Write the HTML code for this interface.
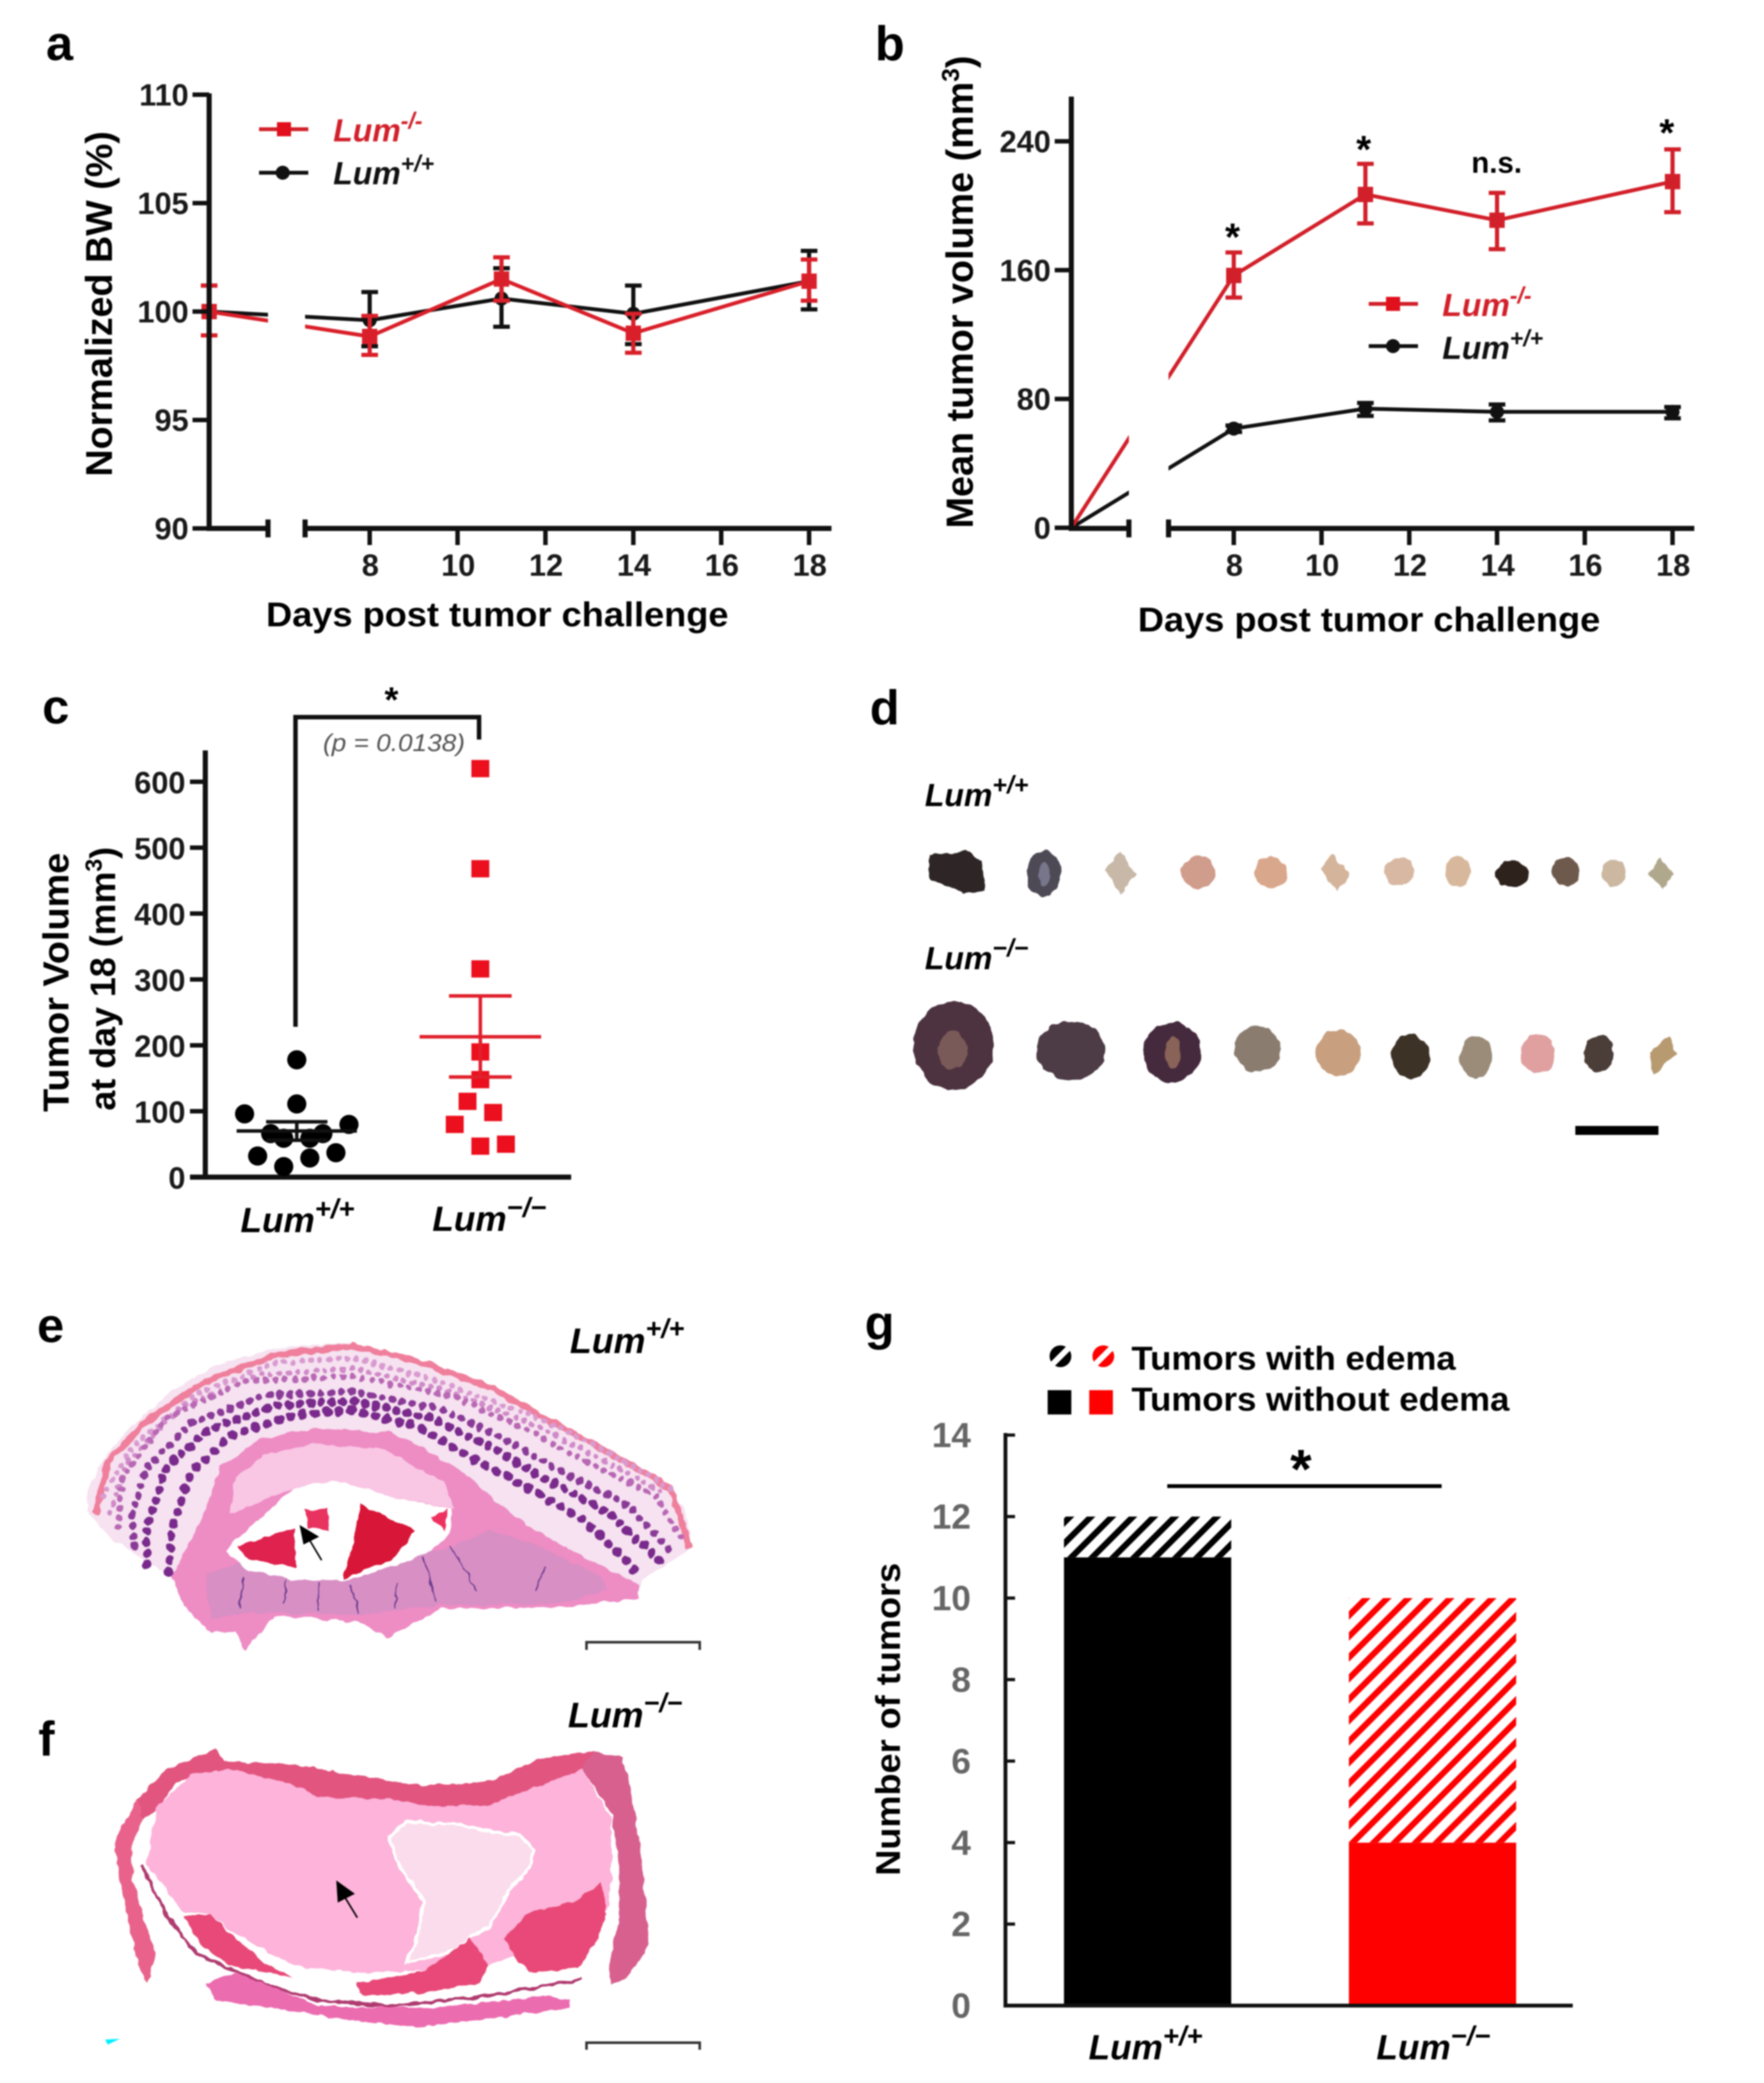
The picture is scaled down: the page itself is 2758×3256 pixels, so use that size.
<!DOCTYPE html>
<html lang="en">
<head>
<meta charset="utf-8">
<title>Lumican tumor figure</title>
<style>
html,body{margin:0;padding:0;background:#fff;width:2758px;height:3256px;overflow:hidden}
svg{display:block;filter:blur(1.1px)}
text{font-family:"Liberation Sans",sans-serif;font-weight:bold}
.it{font-style:italic}
.panel{font-size:76px}
</style>
</head>
<body>
<svg id="fig" xmlns="http://www.w3.org/2000/svg" width="2758" height="3256" viewBox="0 0 2758 3256">
<defs>
<pattern id="hatch-black" patternUnits="userSpaceOnUse" width="23.2" height="23.2" patternTransform="rotate(-45)">
<rect width="23.2" height="23.2" fill="#fff"/><rect y="1" width="23.2" height="9.5" fill="#000"/>
</pattern>
<pattern id="hatch-red" patternUnits="userSpaceOnUse" width="23.2" height="23.2" patternTransform="rotate(-45)">
<rect width="23.2" height="23.2" fill="#fff"/><rect y="1" width="23.2" height="9.5" fill="#f00"/>
</pattern>
<filter id="rough" x="-5%" y="-5%" width="110%" height="110%">
<feTurbulence type="fractalNoise" baseFrequency="0.06" numOctaves="2" seed="4" result="n"/>
<feDisplacementMap in="SourceGraphic" in2="n" scale="9" xChannelSelector="R" yChannelSelector="G"/>
</filter>
</defs>
<rect width="2758" height="3256" fill="#fff"/>

<text class="panel" x="72" y="94">a</text>
<text class="panel" x="1368" y="94">b</text>
<text class="panel" x="66" y="1131">c</text>
<text class="panel" x="1360" y="1132">d</text>
<text class="panel" x="58" y="2098">e</text>
<text class="panel" x="60" y="2744">f</text>
<text class="panel" x="1352" y="2094">g</text>

<g id="chart-a"></g>
<g id="chart-b"></g>
<g id="chart-c"></g>
<g id="chart-g"></g>

<!-- Panel a static labels -->
<text transform="translate(175,745) rotate(-90)" font-size="58" textLength="540" lengthAdjust="spacingAndGlyphs">Normalized BW (%)</text>
<text x="416" y="979" font-size="54" textLength="723" lengthAdjust="spacingAndGlyphs">Days post tumor challenge</text>
<g>
<line x1="405" y1="202" x2="482" y2="202" stroke="#d2202a" stroke-width="6"/>
<rect x="433" y="191" width="22" height="22" fill="#e0101c"/>
<text class="it" x="521" y="221" font-size="50" fill="#d2202a">Lum<tspan font-size="36" dy="-20">-/-</tspan></text>
<line x1="405" y1="270" x2="482" y2="270" stroke="#111" stroke-width="6"/>
<circle cx="442" cy="270" r="11" fill="#111"/>
<text class="it" x="521" y="288" font-size="50" fill="#111">Lum<tspan font-size="36" dy="-20">+/+</tspan></text>
</g>

<!-- Panel b static labels -->
<text transform="translate(1521,826) rotate(-90)" font-size="59">Mean tumor volume (mm<tspan font-size="38" dy="-22">3</tspan><tspan dy="22">)</tspan></text>
<text x="1779" y="987" font-size="54" textLength="723" lengthAdjust="spacingAndGlyphs">Days post tumor challenge</text>
<text x="1927" y="391" font-size="60" text-anchor="middle">*</text>
<text x="2132" y="254" font-size="60" text-anchor="middle">*</text>
<text x="2340" y="270" font-size="46" text-anchor="middle">n.s.</text>
<text x="2606" y="228" font-size="60" text-anchor="middle">*</text>
<g>
<line x1="2140" y1="475" x2="2217" y2="475" stroke="#d2202a" stroke-width="6"/>
<rect x="2167" y="464" width="22" height="22" fill="#e0101c"/>
<text class="it" x="2255" y="494" font-size="50" fill="#d2202a">Lum<tspan font-size="36" dy="-20">-/-</tspan></text>
<line x1="2140" y1="541" x2="2217" y2="541" stroke="#111" stroke-width="6"/>
<circle cx="2178" cy="541" r="11" fill="#111"/>
<text class="it" x="2255" y="561" font-size="50" fill="#111">Lum<tspan font-size="36" dy="-20">+/+</tspan></text>
</g>

<!-- Panel c static labels -->
<text transform="translate(107,1738) rotate(-90)" font-size="57" textLength="405" lengthAdjust="spacingAndGlyphs">Tumor Volume</text>
<text transform="translate(180,1736) rotate(-90)" font-size="56">at day 18 (mm<tspan font-size="36" dy="-21">3</tspan><tspan dy="21">)</tspan></text>
<path d="M462,1605V1121H749V1156" fill="none" stroke="#111" stroke-width="7"/>
<text x="612" y="1113" font-size="56" text-anchor="middle">*</text>
<text class="it" x="505" y="1174" font-size="38" fill="#555" style="font-weight:normal" textLength="222" lengthAdjust="spacingAndGlyphs">(p = 0.0138)</text>
<text class="it" x="376" y="1926" font-size="55">Lum<tspan font-size="43" dy="-22">+/+</tspan></text>
<text class="it" x="676" y="1924" font-size="55">Lum<tspan font-size="43" dy="-22">−/−</tspan></text>

<!-- Panel d photo -->
<g>
<text class="it" x="1446" y="1260" font-size="50">Lum<tspan font-size="39" dy="-20">+/+</tspan></text>
<text class="it" x="1446" y="1515" font-size="50">Lum<tspan font-size="39" dy="-20">−/−</tspan></text>
<g filter="url(#rough)">
<g transform="translate(1340,1040) scale(.9043,.5102)">
<path d="M125,580L195,570L215,600L220,690L185,700L125,655Z" fill="#2e2826"/>
<ellipse cx="323" cy="638" rx="30" ry="70" fill="#4d4a55"/>
<ellipse cx="323" cy="640" rx="10" ry="38" fill="#77768a"/>
<path d="M455,570L482,640L455,700L428,625Z" fill="#c8b8a8"/>
<ellipse cx="590" cy="635" rx="30" ry="50" fill="#d09c8c"/>
<ellipse cx="715" cy="635" rx="28" ry="48" fill="#d8a78c"/>
<path d="M822,580L853,640L830,695L802,625Z" fill="#d4b49a"/>
<ellipse cx="938" cy="632" rx="26" ry="43" fill="#d8b8a2"/>
<ellipse cx="1038" cy="632" rx="22" ry="48" fill="#d8b89c"/>
<ellipse cx="1133" cy="640" rx="28" ry="42" fill="#2e241e"/>
<ellipse cx="1225" cy="632" rx="24" ry="45" fill="#6e5a4e"/>
<ellipse cx="1308" cy="635" rx="20" ry="43" fill="#ccb8a0"/>
<path d="M1388,592L1412,640L1392,690L1370,640Z" fill="#b0a88c"/>
<ellipse cx="167" cy="1165" rx="70" ry="135" fill="#4e3240"/>
<ellipse cx="165" cy="1180" rx="25" ry="60" fill="#7a5a58"/>
<ellipse cx="370" cy="1180" rx="60" ry="90" fill="#4e3a44"/>
<ellipse cx="545" cy="1185" rx="52" ry="90" fill="#452a3c"/>
<ellipse cx="545" cy="1185" rx="14" ry="50" fill="#8a6458"/>
<ellipse cx="692" cy="1175" rx="40" ry="72" fill="#8a7d70"/>
<ellipse cx="832" cy="1188" rx="38" ry="70" fill="#c8a080"/>
<ellipse cx="958" cy="1198" rx="33" ry="68" fill="#3c3028"/>
<ellipse cx="1070" cy="1200" rx="28" ry="65" fill="#9a8c78"/>
<ellipse cx="1177" cy="1190" rx="30" ry="60" fill="#e0a0a0"/>
<ellipse cx="1283" cy="1190" rx="26" ry="55" fill="#4c3e38"/>
<path d="M1403,1138L1418,1190L1375,1255L1370,1185Z" fill="#b89a70"/>
</g>
</g>
<rect x="2463" y="1760" width="130" height="14" fill="#000"/>
</g>

<!-- Panel e histology -->
<g>
<text class="it" x="891" y="2115" font-size="56">Lum<tspan font-size="42" dy="-24">+/+</tspan></text>
<g filter="url(#rough)">
<g transform="translate(0,2000) scale(.7653,.4082)">
<path d="M175,830L210,690L270,560L350,430L440,330L560,265L710,240L850,300L1000,410L1120,540L1250,670L1340,760L1400,880L1415,1030L1310,1150L1305,1220L1150,1255L900,1260L790,1370L730,1310L560,1290L500,1420L480,1350L430,1350L375,1250L350,1140L240,1010L180,900Z" fill="#f6e2f0"/>
<path d="M195,900L220,700L300,540L420,390L560,290L720,255L850,310L1010,420L1150,570L1260,680L1370,800L1410,1030" fill="none" stroke="#ef7f9c" stroke-width="10" vector-effect="non-scaling-stroke"/>
<g fill="none" stroke-linecap="round">
<path d="M210,830L270,640L400,440L560,320L720,300L880,380L1100,530L1240,660L1380,810" stroke="#d99ad0" stroke-width="9" stroke-dasharray="0.1 14" vector-effect="non-scaling-stroke"/>
<path d="M225,890L260,700L370,490L530,365L720,340L905,420L1090,555L1220,680L1360,820" stroke="#d08ac8" stroke-width="9" stroke-dasharray="0.1 14" vector-effect="non-scaling-stroke"/>
<path d="M240,950L250,760L340,530L500,390L720,370L930,450L1080,580L1200,700L1340,830L1395,1000" stroke="#b868b4" stroke-width="10" stroke-dasharray="0.1 15" vector-effect="non-scaling-stroke"/>
<path d="M275,1020L270,900L300,720L390,550L540,445L720,430L900,495L1030,610L1150,740L1280,860L1370,1040" stroke="#8a3a98" stroke-width="12" stroke-dasharray="0.1 16" vector-effect="non-scaling-stroke"/>
<path d="M300,1090L300,950L340,720L430,570L570,480L720,465L880,530L1000,640L1120,770L1240,890L1350,1080" stroke="#7a2a8c" stroke-width="14" stroke-dasharray="0.1 17" vector-effect="non-scaling-stroke"/>
<path d="M345,1120L350,960L390,740L470,600L600,520L720,500L850,560L960,680L1080,800L1200,930L1300,1120" stroke="#7a2a8c" stroke-width="15" stroke-dasharray="0.1 19" vector-effect="non-scaling-stroke"/>
</g>
<path d="M415,900L450,720L530,610L640,570L800,585L860,640L950,740L1000,830L1060,920L1170,1040L1305,1170L1305,1220L1150,1255L900,1260L790,1370L730,1310L560,1290L500,1420L480,1350L430,1350L375,1250L350,1140L390,1000Z" fill="#ee8cc4"/>
<path d="M420,1130L480,1090L900,1040L1000,960L1100,1020L1230,1140L1240,1190L1150,1240L900,1245L730,1285L500,1275L430,1300Z" fill="#d88fc4"/>
<path d="M470,900L480,760L540,670L640,630L790,650L850,720L905,770L930,880L800,830L600,800Z" fill="#f9c6e4"/>
<path d="M460,1040L480,1000L600,800L680,770L800,830L925,880L920,970L880,1040L800,1100L700,1155L600,1150L500,1110Z" fill="#fff"/>
<path d="M485,1020L600,950L605,1100L530,1080L500,1060Z" fill="#e02050"/>
<path d="M620,880L670,880L670,960L630,950Z" fill="#e83060"/>
<path d="M735,860L850,960L810,1060L700,1150L720,1030Z" fill="#d81838"/>
<path d="M880,910L915,880L910,965Z" fill="#ee3060"/>
<g stroke="#6a3a8c" stroke-width="2" fill="none">
<path d="M498,1140L490,1260M585,1150L582,1240M650,1160L650,1270M715,1170L735,1280M810,1160L808,1260M865,1060L890,1230M920,1020L975,1190M1115,1100L1095,1190" vector-effect="non-scaling-stroke"/>
</g>
</g>
</g>
<g transform="translate(0,2000) scale(.7653,.4082)">
<path d="M612,940L652,985L620,1015Z" fill="#000"/>
<line x1="630" y1="990" x2="657" y2="1075" stroke="#000" stroke-width="2.5" vector-effect="non-scaling-stroke"/>
</g>
<path d="M917,2579V2567H1094V2579" fill="none" stroke="#333" stroke-width="4"/>
</g>

<!-- Panel f histology -->
<g>
<text class="it" x="888" y="2700" font-size="56">Lum<tspan font-size="42" dy="-24">−/−</tspan></text>
<g filter="url(#rough)">
<g transform="translate(0,2640) scale(.7653,.3929)">
<path d="M440,240L460,290L600,300L720,340L860,385L960,375L1010,360L1100,280L1210,245L1270,270L1190,320L1100,390L1000,465L880,470L800,445L640,430L560,370L440,325L360,370L320,480L290,520L280,440L340,320Z" fill="#e2557f"/>
<path d="M1210,245L1270,270L1290,400L1310,650L1320,900L1325,1020L1290,1130L1250,1180L1245,1100L1265,900L1265,700L1250,500L1190,320Z" fill="#d8608e"/>
<path d="M280,440L290,520L270,620L270,760L300,950L320,1060L300,1170L285,1100L270,1000L240,700L235,600Z" fill="#e8628c"/>
<path d="M290,700L340,900L400,1050L540,1175L650,1240L800,1262L1000,1220L1190,1155" fill="none" stroke="#b03a70" stroke-width="5" vector-effect="non-scaling-stroke"/>
<path d="M320,470L390,340L470,320L600,380L650,430L800,440L880,465L1000,460L1190,320L1250,520L1250,760L1240,880L1170,850L1080,890L1030,990L1050,1060L1000,1100L960,990L870,1120L730,1130L600,1100L560,1060L470,960L430,900L370,880L300,700Z" fill="#fdb3da"/>
<path d="M795,590L830,530L940,540L990,565L1060,580L1090,640L1080,720L1040,800L1000,950L965,980L930,1040L830,1090L860,950L865,850L810,680Z" fill="#fbdcec" stroke="#fff" stroke-width="5" vector-effect="non-scaling-stroke"/>
<path d="M1030,990L1080,890L1170,850L1230,770L1240,900L1220,1000L1180,1110L1080,1130L1050,1060Z" fill="#e84878"/>
<path d="M730,1170L870,1120L960,990L1000,1100L980,1170L860,1210L740,1220Z" fill="#e84878"/>
<path d="M375,900L430,900L470,970L540,1090L600,1150L470,1100L410,1020Z" fill="#e84878"/>
<path d="M420,1170L480,1130L560,1190L650,1260L880,1270L1110,1220L1165,1240L1160,1270L1000,1310L850,1345L680,1310L640,1290L440,1240Z" fill="#ec6cb0"/>
</g>
</g>
<g transform="translate(0,2640) scale(.7653,.3929)">
<path d="M687,762L725,815L690,850Z" fill="#000"/>
<line x1="705" y1="830" x2="730" y2="910" stroke="#000" stroke-width="2.5" vector-effect="non-scaling-stroke"/>
<path d="M215,1395L245,1392L220,1415Z" fill="#00f0ff"/>
</g>
<path d="M917,3204V3193H1094V3204" fill="none" stroke="#333" stroke-width="4"/>
</g>

<!-- Panel g static labels -->
<text transform="translate(1407,2932) rotate(-90)" font-size="54" textLength="489" lengthAdjust="spacingAndGlyphs">Number of tumors</text>
<g>
<circle cx="1658" cy="2120" r="17" fill="#000"/>
<line x1="1636" y1="2142" x2="1680" y2="2098" stroke="#fff" stroke-width="9"/>
<circle cx="1725" cy="2120" r="17" fill="#f00"/>
<line x1="1703" y1="2142" x2="1747" y2="2098" stroke="#fff" stroke-width="9"/>
<text x="1769" y="2141" font-size="52" textLength="507" lengthAdjust="spacingAndGlyphs">Tumors with edema</text>
<rect x="1638" y="2173" width="37" height="38" fill="#000"/>
<rect x="1703" y="2173" width="37" height="38" fill="#f00"/>
<text x="1769" y="2205" font-size="52" textLength="591" lengthAdjust="spacingAndGlyphs">Tumors without edema</text>
</g>
<line x1="1825" y1="2323" x2="2254" y2="2323" stroke="#000" stroke-width="6"/>
<text x="2034" y="2326" font-size="86" text-anchor="middle">*</text>
<text class="it" x="1702" y="3219" font-size="55">Lum<tspan font-size="43" dy="-22">+/+</tspan></text>
<text class="it" x="2152" y="3219" font-size="55">Lum<tspan font-size="43" dy="-22">−/−</tspan></text>
</svg>

<script>
// ---- Panel a data ----
const aDays = [0, 8, 11, 14, 18];
const aRedMean = [100, 98.85, 101.5, 99.0, 101.4];
const aRedHigh = [101.2, 99.8, 102.5, 99.9, 102.4];
const aRedLow = [98.9, 98.0, 100.5, 98.1, 100.5];
const aBlackMean = [100, 99.6, 100.6, 99.9, 101.4];
const aBlackHigh = [101.2, 100.9, 102.0, 101.2, 102.8];
const aBlackLow = [98.9, 98.4, 99.3, 98.5, 100.1];
const aYTicks = [90, 95, 100, 105, 110];
const xTickDays = [8, 10, 12, 14, 16, 18];

// ---- Panel b data ----
const bDays = [0, 8, 11, 14, 18];
const bRedMean = [0, 156.7, 207, 191, 215];
const bRedHigh = [0, 171, 226, 208, 235];
const bRedLow = [0, 143, 189, 173, 196];
const bBlackMean = [0, 61.6, 74, 72, 72];
const bBlackHigh = [0, 63.5, 77.5, 76.6, 75];
const bBlackLow = [0, 59.5, 69.5, 66.7, 68];
const bYTicks = [0, 80, 160, 240];

// ---- Panel c data ----
const cYTicks = [0, 100, 200, 300, 400, 500, 600];
const cWtValues = [178, 111, 96, 80, 66, 59, 59, 66, 32, 29, 37, 16];
const cWtSlots = [0, 0, -4, 4, -2, -1, 1, 2, -3, 1, 3, -1];
const cKoValues = [620, 468, 316, 190, 148, 115, 98, 80, 47, 50];
const cKoSlots = [0, 0, 0, 0, 0, -1, 1, -2, 0, 2];
const cMeans = [70, 213];
const cUpper = [84, 275];
const cLower = [56, 152];

// ---- Panel g data ----
const gYTicks = [0, 2, 4, 6, 8, 10, 12, 14];
const gCategories = ['Lum+/+', 'Lum-/-'];
const gWithoutEdema = [11, 4];
const gWithEdema = [1, 6];

const NS = 'http://www.w3.org/2000/svg';
function mk(tag, attrs, parent, txt) {
  const e = document.createElementNS(NS, tag);
  for (const k in attrs) e.setAttribute(k, attrs[k]);
  if (txt !== undefined) e.textContent = txt;
  parent.appendChild(e);
  return e;
}

// Axis functions
const xA = d => d === 0 ? 327 : 578 + (d - 8) * 68.7;
const yA = v => 826 - (v - 90) * 33.9;
const xB = d => d === 0 ? 1675 : 1929 + (d - 8) * 68.6;
const yB = v => 825 - v * 2.517;
const xC = (cat, slot) => (cat === 0 ? 464 : 751) + slot * (cat === 0 ? 20.4 : 20);
const yC = v => 1840 - v * 1.03;
const yG = v => 3135 - v * 63.7;
const gBarLeft = [1663.5, 2109];
const gBarWidth = 261.5;

function drawSeries(parent, prefix, days, mean, hi, lo, xf, yf, color, marker) {
  const g = mk('g', {}, parent);
  
  
  const pts = days.map((d, i) => xf(d) + ',' + yf(mean[i])).join(' ');
  const line = mk('polyline', {points: pts, fill: 'none', stroke: color, 'stroke-width': 6}, g);
  
  
  days.forEach((d, i) => {
    const x = xf(d);
    if (hi[i] !== lo[i]) {
      const bar = mk('path', {d: 'M' + (x - 13) + ',' + yf(hi[i]) + 'H' + (x + 13) + 'M' + x + ',' + yf(hi[i]) + 'V' + yf(lo[i]) + 'M' + (x - 13) + ',' + yf(lo[i]) + 'H' + (x + 13), fill: 'none', stroke: color, 'stroke-width': 6.5}, g);
      
      
    }
    if (d === 0 && mean[i] === 0) return;
    let m;
    if (marker === 'square') {
      m = mk('rect', {x: x - 12, y: yf(mean[i]) - 12, width: 24, height: 24, fill: color}, g);
    } else {
      m = mk('circle', {cx: x, cy: yf(mean[i]), r: 11, fill: color}, g);
    }
    
    
  });
}

function drawLineAxes(parent, prefix, yTicks, xf, yf, axisX, axisY, axisTop, leftEnd, rightStart, rightEnd, labelX, tickLen) {
  const gap = mk('rect', {x: leftEnd, y: axisTop, width: rightStart - leftEnd, height: axisY - axisTop - 8, fill: '#fff'}, parent);
  
  
  const yAxis = mk('line', {x1: axisX, y1: axisTop, x2: axisX, y2: axisY + 4, stroke: '#111', 'stroke-width': 8}, parent);
  
  
  const xLeft = mk('path', {d: 'M' + (axisX - 4) + ',' + axisY + 'H' + leftEnd + 'M' + leftEnd + ',' + (axisY - 14) + 'V' + (axisY + 14), fill: 'none', stroke: '#111', 'stroke-width': 8}, parent);
  
  
  const xRight = mk('path', {d: 'M' + rightStart + ',' + (axisY - 14) + 'V' + (axisY + 14) + 'M' + rightStart + ',' + axisY + 'H' + rightEnd, fill: 'none', stroke: '#111', 'stroke-width': 8}, parent);
  
  
  yTicks.forEach(v => {
    const t = mk('line', {x1: axisX - tickLen, y1: yf(v), x2: axisX, y2: yf(v), stroke: '#111', 'stroke-width': 7}, parent);
    
    
    const l = mk('text', {x: labelX, y: yf(v) + 17, 'font-size': 48, 'text-anchor': 'end', fill: '#1a1a1a'}, parent, String(v));
    
    
  });
  xTickDays.forEach(d => {
    const t = mk('line', {x1: xf(d), y1: axisY, x2: xf(d), y2: axisY + 26, stroke: '#111', 'stroke-width': 7}, parent);
    
    
    const l = mk('text', {x: xf(d) + 1, y: 900, 'font-size': 48, 'text-anchor': 'middle', fill: '#1a1a1a'}, parent, String(d));
    
    
  });
}

// Panel a
const chartA = document.getElementById('chart-a');
drawSeries(chartA, 'a-lum-wt', aDays, aBlackMean, aBlackHigh, aBlackLow, xA, yA, '#111', 'circle');
drawSeries(chartA, 'a-lum-ko', aDays, aRedMean, aRedHigh, aRedLow, xA, yA, '#d9202a', 'square');
drawLineAxes(chartA, 'a', aYTicks, xA, yA, 327, 826, 146, 419, 477, 1300, 295, 26);

// Panel b
const chartB = document.getElementById('chart-b');
drawSeries(chartB, 'b-lum-wt', bDays, bBlackMean, bBlackHigh, bBlackLow, xB, yB, '#111', 'circle');
drawSeries(chartB, 'b-lum-ko', bDays, bRedMean, bRedHigh, bRedLow, xB, yB, '#d2202a', 'square');
drawLineAxes(chartB, 'b', bYTicks, xB, yB, 1675, 826, 151, 1765, 1827, 2649, 1643, 26);

// Panel c
const chartC = document.getElementById('chart-c');
const cYAxis = mk('line', {x1: 321, y1: 1173, x2: 321, y2: 1843, stroke: '#111', 'stroke-width': 8}, chartC);


const cXAxis = mk('line', {x1: 297, y1: 1840, x2: 893, y2: 1840, stroke: '#111', 'stroke-width': 8}, chartC);


cYTicks.forEach(v => {
  const t = mk('line', {x1: 297, y1: yC(v), x2: 321, y2: yC(v), stroke: '#111', 'stroke-width': 7}, chartC);
  
  
  const l = mk('text', {x: 290, y: yC(v) + 18, 'font-size': 48, 'text-anchor': 'end', fill: '#1a1a1a'}, chartC, String(v));
  
  
});
cWtValues.forEach((v, i) => {
  const p = mk('circle', {cx: xC(0, cWtSlots[i]), cy: yC(v), r: 15, fill: '#000'}, chartC);
  
  
});
cKoValues.forEach((v, i) => {
  const p = mk('rect', {x: xC(1, cKoSlots[i]) - 14, y: yC(v) - 13.5, width: 28, height: 27, fill: '#ec0f1e'}, chartC);
  
  
});
const cColors = ['#111', '#e0202c'];
const cMeanHalf = [94, 95];
const cCapHalf = [48, 49];
cMeans.forEach((m, i) => {
  const x = xC(i, 0);
  const s = mk('path', {d: 'M' + (x - cMeanHalf[i]) + ',' + yC(m) + 'H' + (x + cMeanHalf[i]) + 'M' + x + ',' + yC(cUpper[i]) + 'V' + yC(cLower[i]) + 'M' + (x - cCapHalf[i]) + ',' + yC(cUpper[i]) + 'H' + (x + cCapHalf[i]) + 'M' + (x - cCapHalf[i]) + ',' + yC(cLower[i]) + 'H' + (x + cCapHalf[i]), fill: 'none', stroke: cColors[i], 'stroke-width': 5.5}, chartC);
  
  
});

// Panel g
const chartG = document.getElementById('chart-g');
const gSolid = ['#000', '#f00'];
const gHatch = ['url(#hatch-black)', 'url(#hatch-red)'];
gCategories.forEach((c, i) => {
  const a = mk('rect', {x: gBarLeft[i], y: yG(gWithoutEdema[i]), width: gBarWidth, height: yG(0) - yG(gWithoutEdema[i]), fill: gSolid[i]}, chartG);
  
  
  const top = gWithoutEdema[i] + gWithEdema[i];
  const b = mk('rect', {x: gBarLeft[i], y: yG(top), width: gBarWidth, height: yG(gWithoutEdema[i]) - yG(top), fill: gHatch[i]}, chartG);
  
  
});
const gYAxis = mk('line', {x1: 1572, y1: 2240, x2: 1572, y2: 3138, stroke: '#111', 'stroke-width': 6}, chartG);


const gXAxis = mk('line', {x1: 1569, y1: 3135, x2: 2459, y2: 3135, stroke: '#111', 'stroke-width': 6}, chartG);


gYTicks.forEach(v => {
  const t = mk('line', {x1: 1572, y1: yG(v), x2: 1587, y2: yG(v), stroke: '#111', 'stroke-width': 5}, chartG);
  
  
  const l = mk('text', {x: 1518, y: yG(v) + 19, 'font-size': 55, 'text-anchor': 'end', fill: '#666'}, chartG, String(v));
  
  
});
</script>
</body>
</html>
